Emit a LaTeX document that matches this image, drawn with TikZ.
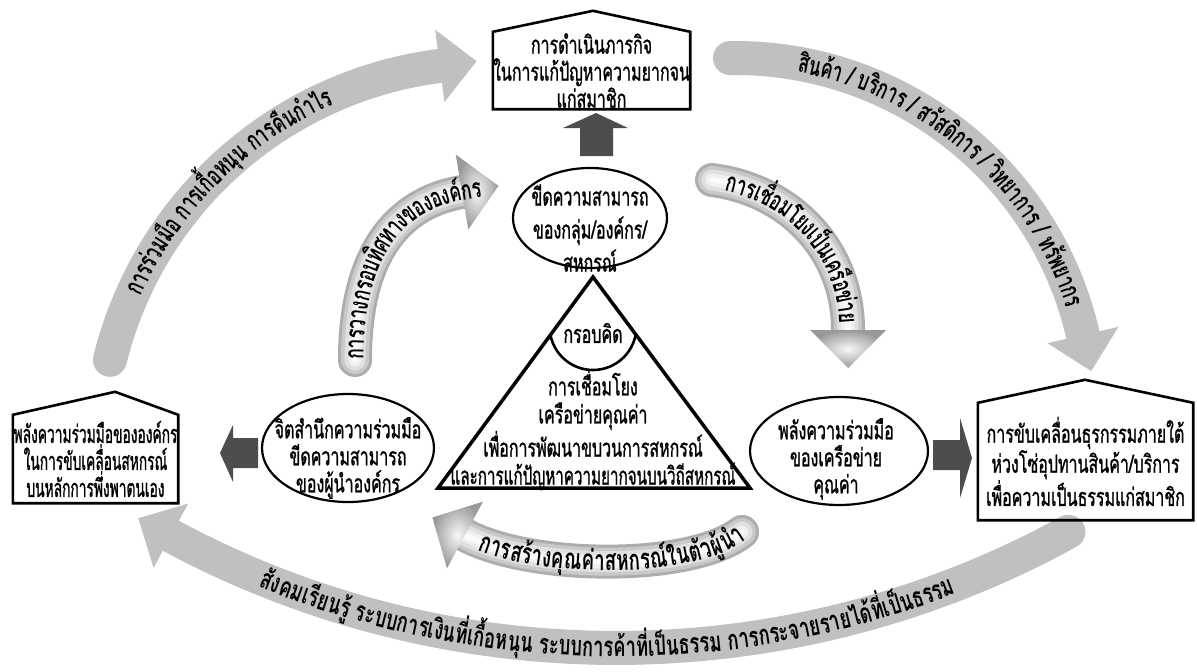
\documentclass[tikz,border=0pt]{standalone}
\usepackage{fontspec}
\usepackage{graphicx}
\newfontfamily\boxfont[Script=Thai,FakeStretch=0.64,FakeBold=1]{Loma}
\newfontfamily\bandfont[Script=Thai,FakeStretch=0.66]{Loma}
\usetikzlibrary{calc,shapes.geometric,decorations.text}
\definecolor{bandgray}{RGB}{192,192,192}
\definecolor{darkarr}{RGB}{77,77,77}
\newcommand\bandfnt{\bandfont\bfseries\fontsize{27}{27}\selectfont}
\newcommand\bandfntB{\bandfont\bfseries\fontsize{27.8}{27.8}\selectfont}
\newcommand\bandfntL{\bandfont\bfseries\fontsize{28.5}{28.5}\selectfont}
\newcommand\sqz[2]{\scalebox{#1}[1]{#2}}
\newcommand\tubepath[1]{%
  \draw[line cap=round, line width=34pt, draw=black!32] #1;
  \draw[line cap=round, line width=28pt, draw=black!21] #1;
  \draw[line cap=round, line width=21pt, draw=black!12] #1;
  \draw[line cap=round, line width=13pt, draw=black!6] #1;
  \draw[line cap=round, line width=6pt, draw=black!2] #1;
}
\begin{document}
\begin{tikzpicture}[x=1pt,y=1pt,
  boxtxt/.style={font=\boxfont\fontsize{25}{27}\selectfont, align=center, inner sep=0pt},
  outline/.style={draw=black, line width=2.6pt, line join=miter},
  ellline/.style={ellipse, draw=black, line width=2.2pt, fill=white, inner sep=0pt},
  bigband/.style={draw=bandgray, line width=34pt, line cap=round},
  headshade/.style={shading=radial, inner color=black!3, outer color=black!40},
]
\fill[white] (0,0) rectangle (1197,-672);
\useasboundingbox (0,0) rectangle (1197,-672);

% ---------- big grey arcs ----------
\coordinate (C1) at (489.5,-453.7);
\coordinate (C2) at (735,-415);
\coordinate (C3) at (616,291);

\draw[bigband] ([shift={(166.1:391)}]C1) arc[start angle=166.1, end angle=97.3, radius=391];
\coordinate (E1) at ([shift={(97.3:391)}]C1);
\fill[bandgray] ($(E1)+(97.3:36.5)$) -- ($(E1)+(7.3:37)$) -- ($(E1)+(277.3:36.5)$) -- cycle;

\draw[bigband] ([shift={(90.8:357)}]C2) arc[start angle=90.8, end angle=12.95, radius=357];
\coordinate (E2) at ([shift={(12.95:357)}]C2);
\fill[bandgray] ($(E2)+(12.95:36.5)$) -- ($(E2)+(-77.05:37)$) -- ($(E2)+(192.95:36.5)$) -- cycle;

\draw[bigband] ([shift={(-118.3:939)}]C3) arc[start angle=-118.3, end angle=-61.2, radius=939];
\coordinate (E3) at ([shift={(-118.3:939)}]C3);
\fill[bandgray] ($(E3)+(-118.3:36.5)$) -- ($(E3)+(151.7:37)$) -- ($(E3)+(61.7:36.5)$) -- cycle;

\path[decorate, decoration={text along path, text align=center, raise=-8.5pt,
  text={|\bandfnt|การ{ร่}วม{มื}อ การเ{กื้}อห{นุ}น การ{คื}น{กำ}ไร}}]
  ([shift={(172:391)}]C1) arc[start angle=172, end angle=97.8, radius=391];
\path[decorate, decoration={text along path, text align=center, raise=-8.5pt,
  text={|\bandfnt|{สิ}น{ค้}า / บ{ริ}การ / ส{วั}ส{ดิ}การ / {วิ}ทยาการ / ท{รั}พยากร}}]
  ([shift={(92:357)}]C2) arc[start angle=92, end angle=5.6, radius=357];
\path[decorate, decoration={text along path, text align=center, raise=-8.8pt,
  text={|\bandfntB|{สั}งคมเ{รี}ยน{รู้} ระบบการเ{งิ}น{ที่}เ{กื้}อห{นุ}น ระบบการ{ค้}า{ที่}เ{ป็}นธรรม การกระจายรายไ{ด้}{ที่}เ{ป็}นธรรม}}]
  ([shift={(-120.5:939)}]C3) arc[start angle=-120.5, end angle=-60.7, radius=939];

% ---------- inner shaded arcs ----------
\tubepath{(355,-360) .. controls (355,-255) and (397,-203) .. (462,-192)}
\shade[headshade] (468.3,-229.5) -- (498.5,-185.8) -- (455.7,-154.5) -- cycle;
\tubepath{(712,-180) .. controls (790,-190) and (848,-250) .. (848,-330)}
\shade[headshade] (810,-330) -- (848,-368) -- (886,-330) -- cycle;
\tubepath{(465,-535) .. controls (530,-570) and (690,-572) .. (742,-532)}
\shade[headshade] (483,-501.6) -- (432.4,-517.5) -- (447,-568.4) -- cycle;

\path[decorate, decoration={text along path, text align=center, raise=-8.5pt,
  text={|\bandfnt|การวางกรอบ{ทิ}ศทางขององ{ค์}กร}}]
  (355,-377) -- (355,-360) .. controls (355,-255) and (397,-203) .. (462,-192) -- (498,-186);
\path[decorate, decoration={text along path, text align=center, raise=-8.5pt,
  text={|\bandfnt|การเ{ชื่}อมโยงเ{ป็}นเค{รื}อ{ข่}าย}}]
  (705,-179) -- (712,-180) .. controls (790,-190) and (848,-250) .. (848,-330) -- (848,-345);
\path[decorate, decoration={text along path, text align=center, raise=-9pt,
  text={|\bandfntL|การส{ร้}าง{คุ}ณ{ค่}าสหกร{ณ์}ใน{ตั}ว{ผู้}{นำ}}}]
  (465,-535) .. controls (530,-570) and (690,-572) .. (742,-532) -- (755,-522);

% ---------- houses ----------
\node[boxtxt, minimum width=197pt, minimum height=77pt] (topbox) at (591.5,-70.5)
  {การดำเนินภารกิจ\\ในการแก้ปัญหาความยากจน\\แก่สมาชิก};
\draw[outline] (topbox.south west) -- (topbox.north west) -- ($(topbox.north)+(1.5,21)$)
  -- (topbox.north east) -- (topbox.south east) -- cycle;

\node[boxtxt, minimum width=165pt, minimum height=88pt] (leftbox) at (95.5,-459)
  {\sqz{0.86}{พลังความร่วมมือขององค์กร}\\\sqz{0.86}{ในการขับเคลื่อนสหกรณ์}\\\sqz{0.86}{บนหลักการพึ่งพาตนเอง}};
\draw[outline] (leftbox.south west) -- (leftbox.north west) -- ($(leftbox.north)+(19.5,23)$)
  -- (leftbox.north east) -- (leftbox.south east) -- cycle;

\node[boxtxt, minimum width=215pt, minimum height=117pt] (rightbox) at (1085.5,-461.5)
  {การขับเคลื่อนธุรกรรมภายใต้\\ห่วงโซ่อุปทานสินค้า/บริการ\\เพื่อความเป็นธรรมแก่สมาชิก};
\draw[outline] (rightbox.south west) -- (rightbox.north west) -- ($(rightbox.north)+(-0.5,23)$)
  -- (rightbox.north east) -- (rightbox.south east) -- cycle;

% ---------- ellipses ----------
\node[ellline, minimum width=154pt, minimum height=100pt] (topell) at (590,-218) {};
\node[boxtxt, font=\boxfont\fontsize{25}{33}\selectfont] (topelltxt) at (590,-228)
  {ขีดความสามารถ\\ของกลุ่ม/องค์กร/\\สหกรณ์};
\node[ellline, minimum width=172pt, minimum height=108pt] (leftell) at (348,-448) {};
\node[boxtxt] (leftelltxt) at (348,-458) {จิตสำนึกความร่วมมือ\\ขีดความสามารถ\\ของผู้นำองค์กร};
\node[ellline, minimum width=178pt, minimum height=108pt] (rightell) at (839,-451) {};
\node[boxtxt] (rightelltxt) at (836,-459) {พลังความร่วมมือ\\ของเครือข่าย\\คุณค่า};

% ---------- triangle ----------
\coordinate (triA) at (593,-277);
\coordinate (triB) at (438,-488);
\coordinate (triC) at (750,-488);
\draw[line width=3.5pt, line join=miter] (triA) -- (triB) -- (triC) -- cycle;
\coordinate (arcC) at (593,-326.6);
\draw[line width=2.6pt] ([shift={(191.2:43.4)}]arcC) arc[start angle=191.2, end angle=348.8, radius=43.4];
\node[boxtxt] (frame) at (593,-333) {กรอบคิด};
\node[boxtxt, font=\boxfont\fontsize{25}{28}\selectfont] (tritxt) at (593,-430)
  {การเชื่อมโยง\\เครือข่ายคุณค่า\\เพื่อการพัฒนาขบวนการสหกรณ์\\\sqz{0.95}{และการแก้ปัญหาความยากจนบนวิถีสหกรณ์}};

% ---------- dark block arrows ----------
\fill[darkarr] (580,-156) -- (580,-128) -- (563,-128) -- (596,-113) -- (628,-128) -- (613,-128) -- (613,-156) -- cycle;
\fill[darkarr] (258,-438) -- (233,-438) -- (233,-425) -- (220,-453) -- (233,-482) -- (233,-468) -- (258,-468) -- cycle;
\fill[darkarr] (933,-440) -- (960,-440) -- (960,-418) -- (972,-458) -- (960,-498) -- (960,-470) -- (933,-470) -- cycle;
\end{tikzpicture}
\end{document}
